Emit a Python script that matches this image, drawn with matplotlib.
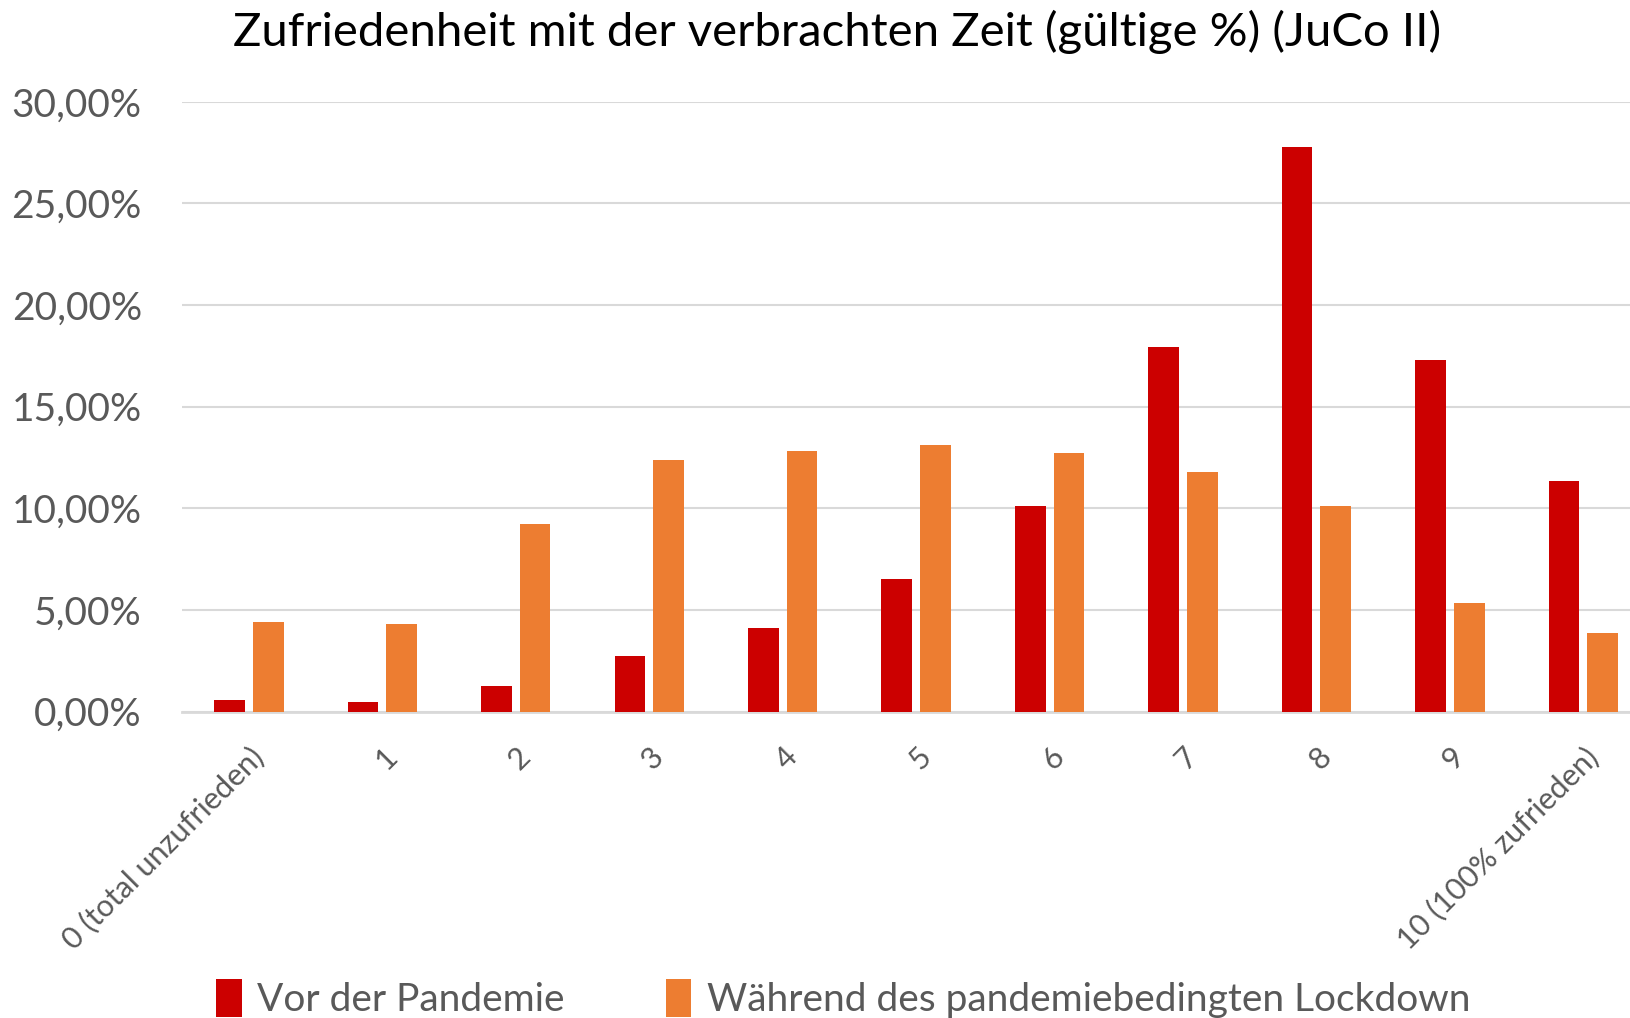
import numpy as np
import matplotlib.pyplot as plt
from matplotlib.ticker import FuncFormatter

# values (in %)
categories = ["0 (total unzufrieden)", "1", "2", "3", "4", "5", "6", "7", "8", "9",
              "10 (100% zufrieden)"]
vor_pandemie = [0.56, 0.46, 1.28, 2.71, 4.10, 6.50, 10.09, 17.92, 27.80, 17.31, 11.32]
lockdown = [4.40, 4.30, 9.22, 12.39, 12.80, 13.11, 12.70, 11.78, 10.09, 5.33, 3.89]
series_names = ["Vor der Pandemie", "Während des pandemiebedingten Lockdown"]

plt.rcParams['font.family'] = ['Lato', 'DejaVu Sans']
grey = "#595959"

fig = plt.figure(figsize=(16.31, 10.18), dpi=100)
# plot area runs a bit past the right edge, like the original
ax = fig.add_axes([0.1117, 0.301, 0.9, 0.599])

x = np.arange(len(categories))
w = 0.23
ax.bar(x - 0.145, vor_pandemie, width=w, color="#CC0000", label=series_names[0], zorder=3)
ax.bar(x + 0.145, lockdown, width=w, color="#ED7D31", label=series_names[1], zorder=3)

ax.set_xlim(-0.5, len(categories) - 0.5)
ax.set_ylim(0, 30)
ax.set_yticks(np.arange(0, 31, 5))
ax.yaxis.set_major_formatter(FuncFormatter(lambda v, p: f"{v:.2f}%".replace(".", ",")))
ax.grid(axis="y", color="#D9D9D9", linewidth=1.5, zorder=0)
for s in ["top", "right", "left"]:
    ax.spines[s].set_visible(False)
ax.spines["bottom"].set_color("#D9D9D9")
ax.spines["bottom"].set_linewidth(2)
ax.tick_params(axis="both", length=0, colors=grey)
ax.tick_params(axis="y", labelsize=28, pad=29)

ax.set_xticks(x)
ax.set_xticklabels(categories, rotation=45, ha="right", rotation_mode="anchor",
                   fontsize=22, color=grey)
ax.tick_params(axis="x", pad=22)

fig.suptitle("Zufriedenheit mit der verbrachten Zeit (gültige %) (JuCo II)",
             fontsize=34, x=0.513, y=0.99, va="top")

fig.legend(loc="center", bbox_to_anchor=(0.517, 0.019), ncol=2, frameon=False,
           fontsize=28, labelcolor=grey, handlelength=0.65, handleheight=1.1,
           handletextpad=0.4, columnspacing=2.6)

fig.savefig("out.png", dpi=100)
